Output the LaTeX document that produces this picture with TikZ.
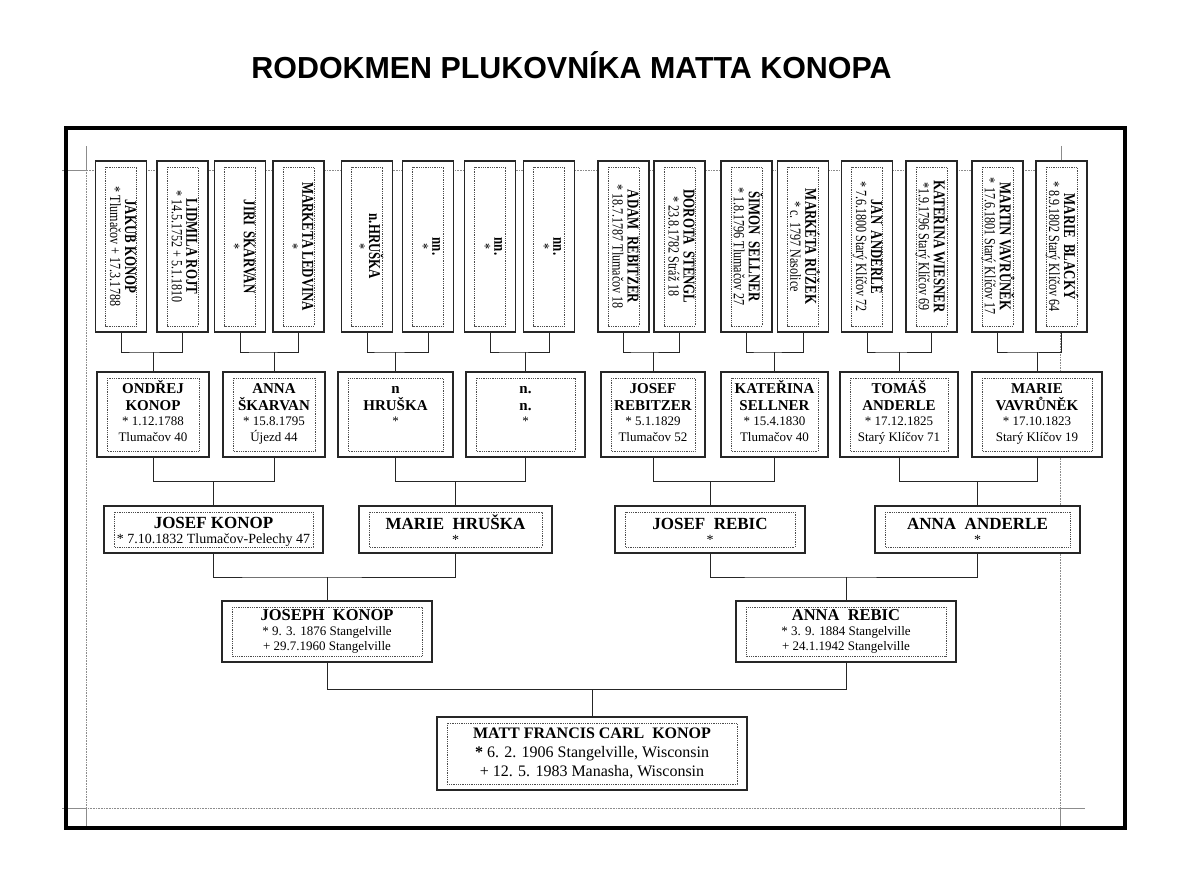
\documentclass[tikz,border=0pt]{standalone}
\usepackage{fontspec}
\setmainfont{Liberation Serif}
\newfontfamily\titlefont{Liberation Sans}
\newfontfamily\narrowfont{Liberation Serif}[FakeStretch=0.78]
\usepackage{graphicx}
\usetikzlibrary{calc}

\begin{document}
\begin{tikzpicture}[x=1pt,y=-1pt,
        box/.style={draw=black!85, line width=1.3pt, fill=white, inner sep=0pt,
            path picture={\draw[black!70, line width=0.8pt, densely dotted]
                ([shift={(10pt,-6pt)}]path picture bounding box.north west) rectangle
                ([shift={(-10pt,6pt)}]path picture bounding box.south east);}},
        topbox/.style={box, minimum width=51, minimum height=171, font=\narrowfont\fontsize{15.5}{14}\selectfont},
        midbox/.style={box, minimum height=85},
        lowbox/.style={box, minimum height=47, align=center, font=\fontsize{14}{15}\selectfont},
        parbox/.style={box, minimum height=61, align=center, font=\fontsize{13}{15}\selectfont},
        mattbox/.style={box, minimum height=73, align=center, font=\fontsize{16}{19}\selectfont},
        link/.style={draw=black!85, line width=1pt},
        margin/.style={black!45, line width=0.6pt}]
        \fill[white] (0,0) rectangle (1200,896);
        \useasboundingbox (0,0) rectangle (1200,896);

        \node[anchor=base, font=\titlefont\bfseries\fontsize{30.4}{34}\selectfont] (title) at (571.5,79) {RODOKMEN PLUKOVNÍKA MATTA KONOPA};

        \draw[margin, densely dotted] (86,170) rectangle (1060,808);
        \draw[margin] (62,170) -- (86,170) -- (86,146);
        \draw[margin] (1061,146) -- (1061,170);
        \draw[margin] (62,808) -- (86,808) -- (86,830);
        \draw[margin] (1060,830) -- (1060,808) -- (1085,808);
        \draw[line width=3.5pt] (66,128) rectangle (1125,828);

        \node[topbox] (jakub) at (121,246.5) {\rotatebox{-90}{\begin{tabular}{@{}c@{}}\textbf{\fontsize{16.5}{14}\selectfont JAKUB KONOP}\\{*} Tlumačov + 17.3.1788\end{tabular}}};
        \node[topbox] (lidmila) at (182.5,246.5) {\rotatebox{-90}{\begin{tabular}{@{}c@{}}\textbf{\fontsize{16.5}{14}\selectfont LIDMILA ROJT}\\{*} 14.5.1752 + 5.1.1810\end{tabular}}};
        \node[topbox] (jiri) at (240,246.5) {\rotatebox{-90}{\begin{tabular}{@{}c@{}}\textbf{\fontsize{16.5}{14}\selectfont JIRI~ SKARVAN}\\{*}\end{tabular}}};
        \node[topbox] (marketal) at (298.5,246.5) {\rotatebox{-90}{\begin{tabular}{@{}c@{}}\textbf{\fontsize{16.5}{14}\selectfont MARKETA LEDVINA}\\{*}\end{tabular}}};
        \node[topbox] (nhruska) at (367,246.5) {\rotatebox{-90}{\begin{tabular}{@{}c@{}}\textbf{\fontsize{16.5}{14}\selectfont n.HRUŠKA}\\{*}\end{tabular}}};
        \node[topbox] (nna) at (428,246.5) {\rotatebox{-90}{\begin{tabular}{@{}c@{}}\textbf{\fontsize{16.5}{14}\selectfont nn.}\\{*}\end{tabular}}};
        \node[topbox] (nnb) at (490,246.5) {\rotatebox{-90}{\begin{tabular}{@{}c@{}}\textbf{\fontsize{16.5}{14}\selectfont nn.}\\{*}\end{tabular}}};
        \node[topbox] (nnc) at (549,246.5) {\rotatebox{-90}{\begin{tabular}{@{}c@{}}\textbf{\fontsize{16.5}{14}\selectfont nn.}\\{*}\end{tabular}}};
        \node[topbox] (adam) at (623.5,246.5) {\rotatebox{-90}{\begin{tabular}{@{}c@{}}\textbf{\fontsize{16.5}{14}\selectfont ADAM~ REBITZER}\\{*} 18.7.1787 Tlumačov 18\end{tabular}}};
        \node[topbox] (dorota) at (679.5,246.5) {\rotatebox{-90}{\begin{tabular}{@{}c@{}}\textbf{\fontsize{16.5}{14}\selectfont DOROTA~ STENGL}\\{*} 23.8.1782 Stráž 18\end{tabular}}};
        \node[topbox] (simon) at (746.5,246.5) {\rotatebox{-90}{\begin{tabular}{@{}c@{}}\textbf{\fontsize{16.5}{14}\selectfont ŠIMON~ SELLNER}\\{*} 1.8.1796 Tlumačov 27\end{tabular}}};
        \node[topbox] (marketar) at (803,246.5) {\rotatebox{-90}{\begin{tabular}{@{}c@{}}\textbf{\fontsize{16.5}{14}\selectfont MARKÉTA RŮŽEK}\\{*} c. 1797 Nasolice\end{tabular}}};
        \node[topbox] (jan) at (867,246.5) {\rotatebox{-90}{\begin{tabular}{@{}c@{}}\textbf{\fontsize{16.5}{14}\selectfont JAN~ ANDERLE}\\{*} 7.6.1800 Starý Klíčov 72\end{tabular}}};
        \node[topbox] (katerinaw) at (931.5,246.5) {\rotatebox{-90}{\begin{tabular}{@{}c@{}}\textbf{\fontsize{16.5}{14}\selectfont KATEŘINA WIESNER}\\{*}1.9.1796 Starý Klíčov 69\end{tabular}}};
        \node[topbox] (martin) at (997.5,246.5) {\rotatebox{-90}{\begin{tabular}{@{}c@{}}\textbf{\fontsize{16.5}{14}\selectfont MARTIN VAVRŮNĚK}\\{*} 17.6.1801 Starý Klíčov 17\end{tabular}}};
        \node[topbox] (marieb) at (1061.5,246.5) {\rotatebox{-90}{\begin{tabular}{@{}c@{}}\textbf{\fontsize{16.5}{14}\selectfont MARIE~ BLACKÝ}\\{*} 8.9.1802 Starý Klíčov 64\end{tabular}}};

        \node[midbox, minimum width=112] (ondrej) at (153,414.5) {\parbox[c][71pt][t]{92pt}{\centering\rule{0pt}{14pt}{\bfseries\fontsize{15}{17}\selectfont ONDŘEJ\\KONOP\par}\fontsize{13}{15.5}\selectfont{*} 1.12.1788\\Tlumačov 40}};
        \node[midbox, minimum width=102] (annas) at (274,414.5) {\parbox[c][71pt][t]{92pt}{\centering\rule{0pt}{14pt}{\bfseries\fontsize{15}{17}\selectfont ANNA\\ŠKARVAN\par}\fontsize{13}{15.5}\selectfont{*} 15.8.1795\\Újezd 44}};
        \node[midbox, minimum width=115] (hruska) at (395.5,414.5) {\parbox[c][71pt][t]{92pt}{\centering\rule{0pt}{14pt}{\bfseries\fontsize{15}{17}\selectfont n\\HRUŠKA\par}\fontsize{13}{15.5}\selectfont{*}}};
        \node[midbox, minimum width=119] (nn) at (525.5,414.5) {\parbox[c][71pt][t]{92pt}{\centering\rule{0pt}{14pt}{\bfseries\fontsize{15}{17}\selectfont n.\\n.\par}\fontsize{13}{15.5}\selectfont{*}}};
        \node[midbox, minimum width=104] (josefrb) at (653,414.5) {\parbox[c][71pt][t]{92pt}{\centering\rule{0pt}{14pt}{\bfseries\fontsize{15}{17}\selectfont JOSEF\\REBITZER\par}\fontsize{13}{15.5}\selectfont{*} 5.1.1829\\Tlumačov 52}};
        \node[midbox, minimum width=107] (katerinas) at (774.5,414.5) {\parbox[c][71pt][t]{92pt}{\centering\rule{0pt}{14pt}{\bfseries\fontsize{15}{17}\selectfont KATEŘINA\\SELLNER\par}\fontsize{13}{15.5}\selectfont{*} 15.4.1830\\Tlumačov 40}};
        \node[midbox, minimum width=118] (tomas) at (899,414.5) {\parbox[c][71pt][t]{98pt}{\centering\rule{0pt}{14pt}{\bfseries\fontsize{15}{17}\selectfont TOMÁŠ\\ANDERLE\par}\fontsize{13}{15.5}\selectfont{*} 17.12.1825\\Starý Klíčov 71}};
        \node[midbox, minimum width=130] (mariev) at (1037,414.5) {\parbox[c][71pt][t]{108pt}{\centering\rule{0pt}{14pt}{\bfseries\fontsize{15}{17}\selectfont MARIE\\VAVRŮNĚK\par}\fontsize{13}{15.5}\selectfont{*} 17.10.1823\\Starý Klíčov 19}};

        \node[lowbox, minimum width=219] (josefk) at (213.5,529.5) {\rule{0pt}{15.5pt}{\bfseries\fontsize{17}{15}\selectfont JOSEF KONOP}\\{*} 7.10.1832 Tlumačov-Pelechy 47};
        \node[lowbox, minimum width=193] (marieh) at (455.5,529.5) {\rule{0pt}{15.5pt}{\bfseries\fontsize{17}{15}\selectfont MARIE~ HRUŠKA}\\{*}};
        \node[lowbox, minimum width=190] (josefr) at (710,529.5) {\rule{0pt}{15.5pt}{\bfseries\fontsize{17}{15}\selectfont JOSEF~ REBIC}\\{*}};
        \node[lowbox, minimum width=205] (annaa) at (977.5,529.5) {\rule{0pt}{15.5pt}{\bfseries\fontsize{17}{15}\selectfont ANNA~ ANDERLE}\\{*}};

        \node[parbox, minimum width=210] (joseph) at (327,631.5) {{\bfseries\fontsize{16.5}{15}\selectfont JOSEPH~ KONOP}\\{*} 9. 3. 1876 Stangelville\\+ 29.7.1960 Stangelville};
        \node[parbox, minimum width=220] (annar) at (846,631.5) {{\bfseries\fontsize{16.5}{15}\selectfont ANNA~ REBIC}\\{*} 3. 9. 1884 Stangelville\\+ 24.1.1942 Stangelville};

        \node[mattbox, minimum width=310] (matt) at (592,753.5) {{\bfseries MATT FRANCIS CARL~ KONOP}\\\textbf{*} 6. 2. 1906 Stangelville, Wisconsin\\+ 12. 5. 1983 Manasha, Wisconsin};

        \coordinate (b1) at ($(jakub.south)!.5!(ondrej.north)$);
        \draw[link] (jakub.south) |- (b1) -| (lidmila.south) (ondrej.north) -- (ondrej.north |- b1);
        \coordinate (b2) at ($(jiri.south)!.5!(annas.north)$);
        \draw[link] (jiri.south) |- (b2) -| (marketal.south) (annas.north) -- (annas.north |- b2);
        \coordinate (b3) at ($(nhruska.south)!.5!(hruska.north)$);
        \draw[link] (nhruska.south) |- (b3) -| (nna.south) (hruska.north) -- (hruska.north |- b3);
        \coordinate (b4) at ($(nnb.south)!.5!(nn.north)$);
        \draw[link] (nnb.south) |- (b4) -| (nnc.south) (nn.north) -- (nn.north |- b4);
        \coordinate (b5) at ($(adam.south)!.5!(josefrb.north)$);
        \draw[link] (adam.south) |- (b5) -| (dorota.south) (josefrb.north) -- (josefrb.north |- b5);
        \coordinate (b6) at ($(simon.south)!.5!(katerinas.north)$);
        \draw[link] (simon.south) |- (b6) -| (marketar.south) (katerinas.north) -- (katerinas.north |- b6);
        \coordinate (b7) at ($(jan.south)!.5!(tomas.north)$);
        \draw[link] (jan.south) |- (b7) -| (katerinaw.south) (tomas.north) -- (tomas.north |- b7);
        \coordinate (b8) at ($(martin.south)!.5!(mariev.north)$);
        \draw[link] (martin.south) |- (b8) -| (marieb.south) (mariev.north) -- (mariev.north |- b8);

        \coordinate (c1) at ($(ondrej.south)!.5!(josefk.north)$);
        \draw[link] (ondrej.south) |- (c1) -| (annas.south) (josefk.north) -- (josefk.north |- c1);
        \coordinate (c2) at ($(hruska.south)!.5!(marieh.north)$);
        \draw[link] (hruska.south) |- (c2) -| (nn.south) (marieh.north) -- (marieh.north |- c2);
        \coordinate (c3) at ($(josefrb.south)!.5!(josefr.north)$);
        \draw[link] (josefrb.south) |- (c3) -| (katerinas.south) (josefr.north) -- (josefr.north |- c3);
        \coordinate (c4) at ($(tomas.south)!.5!(annaa.north)$);
        \draw[link] (tomas.south) |- (c4) -| (mariev.south) (annaa.north) -- (annaa.north |- c4);

        \coordinate (d1) at ($(josefk.south)!.5!(joseph.north)$);
        \draw[link] (josefk.south) |- (d1) -| (marieh.south) (joseph.north) -- (joseph.north |- d1);
        \coordinate (d2) at ($(josefr.south)!.5!(annar.north)$);
        \draw[link] (josefr.south) |- (d2) -| (annaa.south) (annar.north) -- (annar.north |- d2);

        \coordinate (e1) at ($(joseph.south)!.5!(matt.north)$);
        \draw[link] (joseph.south) |- (e1) -| (annar.south) (matt.north) -- (matt.north |- e1);
    \end{tikzpicture}
\end{document}
